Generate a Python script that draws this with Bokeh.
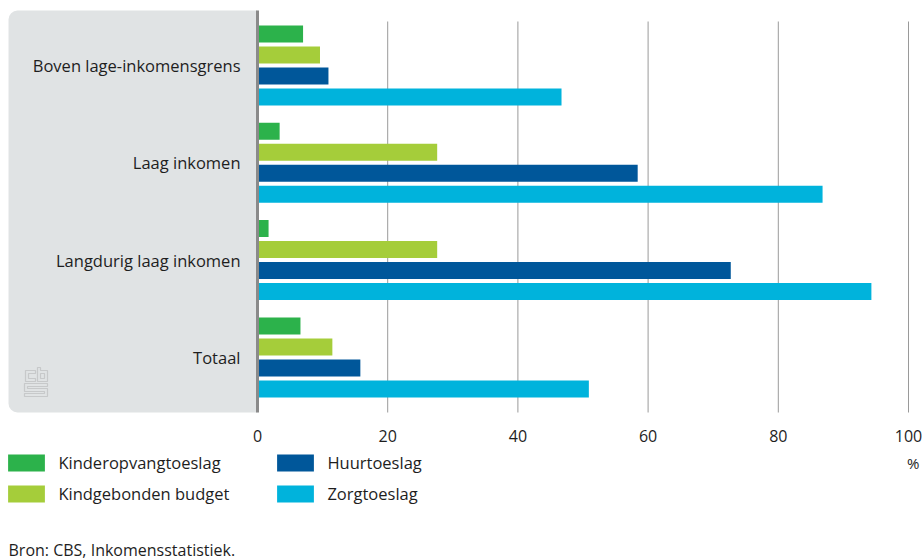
from bokeh.plotting import figure
from bokeh.models import (ColumnDataSource, Range1d, BoxAnnotation, PolyAnnotation,
                          Legend, LegendItem)
from bokeh.core.properties import value
from bokeh.embed import file_html
from bokeh.resources import INLINE

# Share of households receiving each allowance (%), by income group
categories = ["Boven lage-inkomensgrens", "Laag inkomen", "Langdurig laag inkomen", "Totaal"]
series = ["Kinderopvangtoeslag", "Kindgebonden budget", "Huurtoeslag", "Zorgtoeslag"]
kinderopvangtoeslag = [7.0, 3.4, 1.7, 6.6]
kindgebonden_budget = [9.6, 27.6, 27.6, 11.5]
huurtoeslag = [10.9, 58.4, 72.7, 15.8]
zorgtoeslag = [46.7, 86.8, 94.3, 50.9]
x_ticks = [0, 20, 40, 60, 80, 100]
unit_label = "%"
source_note = "Bron: CBS, Inkomensstatistiek."
colors = ["#2cb24b", "#a5cd3a", "#00579a", "#00b3dc"]

FONT = "Open Sans"
TEXT = "#1e1e1e"
W, H = 923, 559

# layout: the frame fills the canvas; x in percent, y in group units (0 = first group)
X0, PX_PER_PCT = 257, 6.51
Y0, PX_PER_GROUP = 65, 97.3


def px_x(px):
    return (px - X0) / PX_PER_PCT


def px_y(py):
    return -(py - Y0) / PX_PER_GROUP


p = figure(width=W, height=H, output_backend="svg", toolbar_location=None,
           x_range=Range1d(px_x(0), px_x(W)), y_range=Range1d(px_y(H), px_y(0)),
           x_axis_location=None, y_axis_location=None,
           min_border=0, min_border_left=0, min_border_right=0,
           min_border_top=0, min_border_bottom=0)
p.outline_line_color = None
p.grid.visible = False
p.background_fill_color = "white"
p.border_fill_color = "white"

# grey label panel behind the category names
p.add_layout(BoxAnnotation(left=8, right=257, top=10, bottom=412,
                           left_units="canvas", right_units="canvas",
                           top_units="canvas", bottom_units="canvas",
                           fill_color="#e0e3e4", fill_alpha=1, line_color=None,
                           border_radius=(9, 0, 0, 9), level="underlay"))

# vertical gridlines
p.segment(x0=x_ticks[1:], x1=x_ticks[1:], y0=px_y(21), y1=px_y(412),
          line_color="#9a9a9a", line_width=1)

# grouped horizontal bars
values = [kinderopvangtoeslag, kindgebonden_budget, huurtoeslag, zorgtoeslag]
offsets = [1.5, 0.5, -0.5, -1.5]
step = 21 / PX_PER_GROUP
bar_height = 17 / PX_PER_GROUP
bar_renderers = []
for name, vals, col, off in zip(series, values, colors, offsets):
    src = ColumnDataSource(dict(y=[-i + off * step for i in range(len(categories))],
                                right=vals, cat=categories))
    r = p.hbar(y="y", left=0, right="right", height=bar_height, source=src,
               fill_color=col, line_color=None)
    bar_renderers.append(r)

# zero axis line spanning the panel height
p.segment(x0=[0], x1=[0], y0=px_y(10), y1=px_y(412),
          line_color="#8a8a8a", line_width=3)

# category names
p.text(x=[px_x(240)] * len(categories), y=[-i for i in range(len(categories))],
       text=categories, text_align="right", text_baseline="middle",
       text_font=value(FONT), text_font_size=value("16.5px"), text_color=TEXT)

# x tick labels and unit
p.text(x=x_ticks, y=[px_y(435)] * len(x_ticks), text=[str(t) for t in x_ticks],
       text_align="center", text_baseline="middle",
       text_font=value(FONT), text_font_size=value("16px"), text_color=TEXT)
p.text(x=[px_x(919)], y=[px_y(462)], text=[unit_label], text_align="right",
       text_baseline="middle", text_font=value(FONT), text_font_size=value("15px"),
       text_color=TEXT)

# source line
p.text(x=[px_x(8)], y=[px_y(549)], text=[source_note], text_align="left",
       text_baseline="middle", text_font=value(FONT), text_font_size=value("16px"),
       text_color=TEXT)

# legend in two columns
legend_style = dict(glyph_width=46, glyph_height=21, label_height=21, label_standoff=9,
                    spacing=8, padding=0, margin=0, border_line_color=None,
                    background_fill_alpha=0, label_text_font=FONT,
                    label_text_font_size="16.5px", label_text_color=TEXT)
legend_cols = [(3.4, [0, 1]), (272.4, [2, 3])]
for lx, idx in legend_cols:
    items = [LegendItem(label=series[k], renderers=[bar_renderers[k]]) for k in idx]
    p.add_layout(Legend(items=items, location=(lx, 54), **legend_style))

# small outlined CBS mark in the panel
logo_shapes = [
    ([35, 25, 25, 35, 35, 28, 28, 35], [370, 370, 381, 381, 378, 378, 373, 373]),
    ([37, 40, 40, 47, 47, 37], [367, 367, 370, 370, 381, 381]),
    ([40, 44, 44, 40], [373, 373, 378, 378]),
    ([24, 47, 47, 27, 27, 47, 47, 24, 24, 44, 44, 24],
     [383, 383, 386, 386, 388, 388, 396, 396, 393, 393, 391, 391]),
]
for xs, ys in logo_shapes:
    p.add_layout(PolyAnnotation(xs=xs, ys=ys, xs_units="canvas", ys_units="canvas",
                                fill_color=None, fill_alpha=0, line_color="#8f8f8f",
                                line_width=1.2, level="underlay"))

open("out.html", "w").write(file_html(p, INLINE))
